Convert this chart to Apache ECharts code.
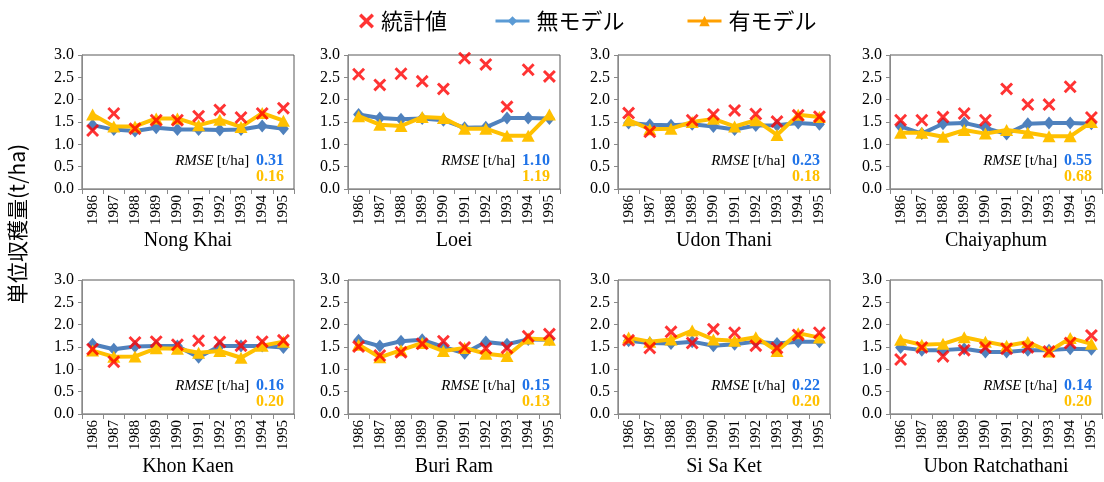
<!DOCTYPE html>
<html>
<head>
<meta charset="utf-8">
<script src="https://cdn.jsdelivr.net/npm/echarts@6/dist/echarts.min.js"></script>
<style>
  html, body { margin: 0; padding: 0; background: #fff; }
  #chart { width: 1104px; height: 482px; }
</style>
</head>
<body>
<div id="chart"></div>
<script>
// Years on every x axis
const years = ['1986', '1987', '1988', '1989', '1990', '1991', '1992', '1993', '1994', '1995'];

// Province panels, left-to-right, top-to-bottom
const provinces = ['Nong Khai', 'Loei', 'Udon Thani', 'Chaiyaphum',
                   'Khon Kaen', 'Buri Ram', 'Si Sa Ket', 'Ubon Ratchathani'];

// 統計値 (statistics), t/ha
const observed = [
  [1.31, 1.69, 1.35, 1.54, 1.54, 1.63, 1.77, 1.60, 1.69, 1.81],
  [2.57, 2.33, 2.58, 2.41, 2.24, 2.93, 2.79, 1.84, 2.67, 2.52],
  [1.70, 1.28, null, 1.54, 1.67, 1.76, 1.68, 1.51, 1.65, 1.62],
  [1.54, 1.54, 1.61, 1.69, 1.54, 2.24, 1.89, 1.89, 2.29, 1.60],
  [1.45, 1.17, 1.60, 1.62, 1.55, 1.64, 1.61, 1.53, 1.62, 1.65],
  [1.51, 1.31, 1.38, 1.57, 1.63, 1.49, 1.47, 1.48, 1.74, 1.79],
  [1.65, 1.48, 1.84, 1.59, 1.90, 1.82, 1.53, 1.48, 1.77, 1.82],
  [1.22, 1.49, 1.29, 1.43, 1.49, 1.46, 1.49, 1.40, 1.59, 1.76]
];

// 無モデル (without model), t/ha
const noModel = [
  [1.43, 1.33, 1.30, 1.37, 1.33, 1.33, 1.32, 1.33, 1.41, 1.35],
  [1.67, 1.59, 1.56, 1.58, 1.54, 1.37, 1.38, 1.59, 1.59, 1.58],
  [1.48, 1.44, 1.43, 1.45, 1.40, 1.33, 1.42, 1.43, 1.48, 1.45],
  [1.40, 1.24, 1.46, 1.48, 1.37, 1.23, 1.46, 1.48, 1.48, 1.46],
  [1.56, 1.45, 1.51, 1.52, 1.52, 1.27, 1.52, 1.52, 1.52, 1.49],
  [1.65, 1.52, 1.63, 1.66, 1.50, 1.36, 1.61, 1.56, 1.67, 1.66],
  [1.64, 1.59, 1.58, 1.62, 1.53, 1.56, 1.62, 1.58, 1.62, 1.62],
  [1.49, 1.43, 1.43, 1.46, 1.39, 1.39, 1.43, 1.43, 1.46, 1.45]
];

// 有モデル (with model), t/ha
const withModel = [
  [1.67, 1.40, 1.40, 1.58, 1.58, 1.43, 1.55, 1.39, 1.70, 1.53],
  [1.63, 1.44, 1.41, 1.61, 1.59, 1.35, 1.35, 1.19, 1.19, 1.67],
  [1.54, 1.34, 1.35, 1.50, 1.57, 1.40, 1.54, 1.21, 1.66, 1.61],
  [1.26, 1.26, 1.17, 1.32, 1.24, 1.32, 1.26, 1.18, 1.18, 1.50],
  [1.42, 1.28, 1.29, 1.47, 1.46, 1.37, 1.41, 1.26, 1.53, 1.62],
  [1.55, 1.27, 1.43, 1.59, 1.41, 1.48, 1.35, 1.30, 1.69, 1.66],
  [1.71, 1.62, 1.67, 1.87, 1.67, 1.64, 1.72, 1.41, 1.81, 1.71],
  [1.66, 1.55, 1.57, 1.72, 1.62, 1.53, 1.61, 1.40, 1.70, 1.57]
];

// RMSE per province [t/ha]
const rmseNoModel   = ['0.31', '1.10', '0.23', '0.55', '0.16', '0.15', '0.22', '0.14'];
const rmseWithModel = ['0.16', '1.19', '0.18', '0.68', '0.20', '0.13', '0.20', '0.20'];

// Y tick range
const yMin = 0, yMax = 3, yStep = 0.5;

const serif = "'Liberation Serif', 'Times New Roman', serif";
const cjk = "'Noto Sans CJK JP', 'Noto Sans', sans-serif";
const BLUE = '#4F81BD';
const YELLOW = '#FFC000';
const RED = '#FF0000';
const AXIS_GRAY = '#898989';
const X_PATH = 'path://M0,1.6L1.6,0L5,3.4L8.4,0L10,1.6L6.6,5L10,8.4L8.4,10L5,6.6L1.6,10L0,8.4L3.4,5Z';

const colLeft = [82, 348, 618, 890];
const rowTop = [55, 280];
const gridW = 212, gridH = 134;

const grids = [], xAxes = [], yAxes = [], series = [], graphics = [];

provinces.forEach((name, i) => {
  const col = i % 4, row = Math.floor(i / 4);
  const left = colLeft[col], top = rowTop[row];
  grids.push({
    left: left, top: top, width: gridW, height: gridH,
    show: true, borderColor: '#595959', borderWidth: 1, backgroundColor: 'transparent'
  });
  xAxes.push({
    type: 'category', gridIndex: i, data: years, boundaryGap: true,
    axisLine: { lineStyle: { color: AXIS_GRAY, width: 1 } },
    axisTick: { show: true, length: 5, lineStyle: { color: AXIS_GRAY } },
    axisLabel: { rotate: 90, interval: 0, margin: 6, color: '#000', fontFamily: serif, fontSize: 15 },
    splitLine: { show: false }
  });
  yAxes.push({
    type: 'value', gridIndex: i, min: yMin, max: yMax, interval: yStep,
    axisLine: { show: true, lineStyle: { color: AXIS_GRAY, width: 1 } },
    axisTick: { show: true, length: 4, lineStyle: { color: AXIS_GRAY } },
    axisLabel: { margin: 8, color: '#000', fontFamily: serif, fontSize: 16,
                 formatter: v => v.toFixed(1) },
    splitLine: { show: false }
  });
  series.push({
    name: '無モデル', type: 'line', xAxisIndex: i, yAxisIndex: i,
    data: noModel[i], symbol: 'diamond', symbolSize: [11, 13],
    itemStyle: { color: BLUE }, lineStyle: { color: BLUE, width: 4 }, z: 2
  });
  series.push({
    name: '有モデル', type: 'line', xAxisIndex: i, yAxisIndex: i,
    data: withModel[i], symbol: 'triangle', symbolSize: [13, 12],
    itemStyle: { color: YELLOW }, lineStyle: { color: YELLOW, width: 4 }, z: 3
  });
  series.push({
    name: '統計値', type: 'scatter', xAxisIndex: i, yAxisIndex: i,
    data: observed[i], symbol: X_PATH, symbolSize: 13,
    itemStyle: { color: RED }, z: 4
  });

  // Province name below the rotated year labels
  graphics.push({
    type: 'text', x: left + gridW / 2, y: row === 0 ? 241 : 467,
    style: { text: name, font: '20px ' + serif, fill: '#000', align: 'center', verticalAlign: 'middle' }
  });
  // RMSE note in the lower-right of each panel
  const rx = left + gridW - 10;
  graphics.push({
    type: 'text', x: rx, y: top + 106, z: 10,
    style: {
      text: '{it|RMSE} {rg|[t/ha]}  {nb|' + rmseNoModel[i] + '}',
      align: 'right', verticalAlign: 'middle',
      rich: {
        it: { fontFamily: serif, fontStyle: 'italic', fontSize: 15, fill: '#000' },
        rg: { fontFamily: serif, fontSize: 15, fill: '#000' },
        nb: { fontFamily: serif, fontWeight: 'bold', fontSize: 16, fill: '#1F73E8' }
      }
    }
  });
  graphics.push({
    type: 'text', x: rx, y: top + 122, z: 10,
    style: { text: rmseWithModel[i], font: 'bold 16px ' + serif, fill: YELLOW,
             align: 'right', verticalAlign: 'middle' }
  });
});

// Shared vertical y-axis title
graphics.push({
  type: 'text', x: 17, y: 224, rotation: Math.PI / 2,
  style: { text: '単位収穫量(t/ha)', font: '21px ' + cjk, fill: '#000',
           align: 'center', verticalAlign: 'middle' }
});

const legendBase = {
  top: 5, selectedMode: false, itemGap: 0,
  textStyle: { fontFamily: cjk, fontSize: 22, color: '#000', padding: [0, 0, 0, 2] }
};

const option = {
  animation: false,
  backgroundColor: '#fff',
  grid: grids,
  xAxis: xAxes,
  yAxis: yAxes,
  series: series,
  legend: [
    Object.assign({}, legendBase, {
      left: 354, itemWidth: 15, itemHeight: 15,
      data: [{ name: '統計値', icon: X_PATH, itemStyle: { color: RED } }]
    }),
    Object.assign({}, legendBase, {
      left: 489, itemWidth: 34, itemHeight: 12,
      data: [{ name: '無モデル', itemStyle: { color: '#5B9BD5' }, lineStyle: { color: '#5B9BD5', width: 3 } }]
    }),
    Object.assign({}, legendBase, {
      left: 681, itemWidth: 34, itemHeight: 13,
      data: [{ name: '有モデル', itemStyle: { color: '#FFA000' }, lineStyle: { color: '#FFA000', width: 3 } }]
    })
  ],
  graphic: graphics
};

const chart = echarts.init(document.getElementById('chart'), null, { renderer: 'canvas' });
chart.setOption(option);
</script>
</body>
</html>
